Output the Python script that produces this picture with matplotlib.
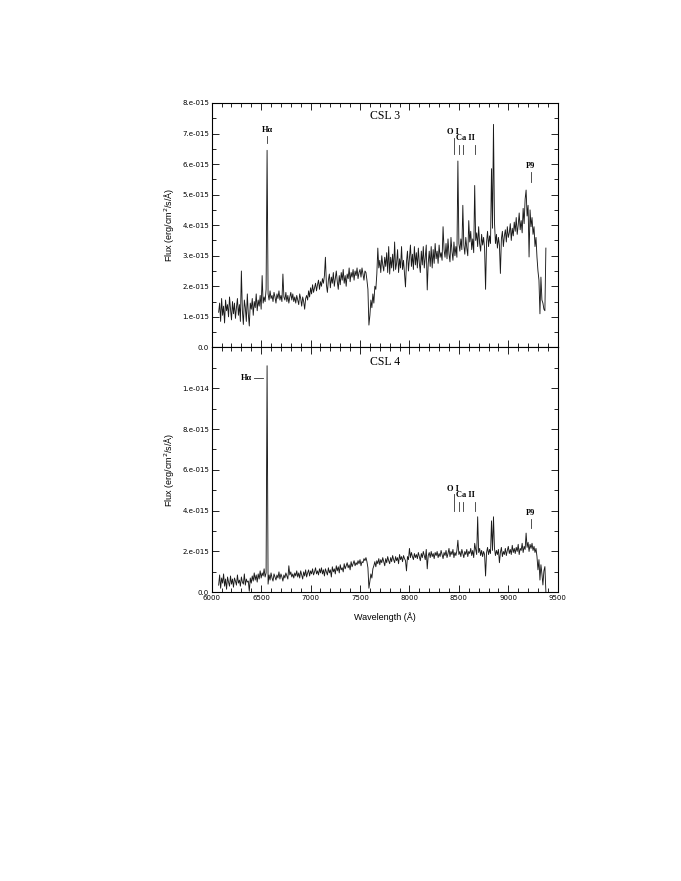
import numpy as np
import matplotlib
matplotlib.use('Agg')
import matplotlib.pyplot as plt
from matplotlib.ticker import MultipleLocator, FixedLocator, FuncFormatter

# ==========================================
# 資料 (flux 單位: 1e-15 erg/cm2/s/Å)
# ==========================================
WL_START, WL_STEP = 6070, 10

csl3_flux = [
    1.15, 1.45, 0.85, 1.60, 1.05, 1.35, 0.80, 1.55, 1.20, 1.40,
    1.00, 1.65, 1.25, 0.90, 1.50, 1.10, 1.45, 0.95, 1.30, 1.60,
    1.05, 1.40, 0.85, 2.50, 1.20, 0.75, 1.55, 1.30, 0.85, 1.75,
    1.10, 0.70, 1.45, 1.25, 1.60, 1.05, 1.50, 1.30, 1.75, 1.20,
    1.55, 1.35, 1.70, 1.25, 2.35, 1.45, 1.65, 1.50, 1.90, 6.45,
    1.75, 1.55, 1.85, 1.60, 1.70, 1.50, 1.80, 1.65, 1.45, 1.75,
    1.60, 1.85, 1.55, 1.70, 1.50, 2.40, 1.65, 1.55, 1.80, 1.50,
    1.70, 1.45, 1.65, 1.80, 1.55, 1.75, 1.50, 1.65, 1.45, 1.70,
    1.55, 1.40, 1.75, 1.60, 1.35, 1.65, 1.50, 1.25, 1.60, 1.70,
    1.55, 1.85, 1.65, 1.95, 1.75, 2.05, 1.80, 1.95, 2.10, 1.85,
    2.05, 2.20, 1.90, 2.15, 2.00, 2.25, 2.10, 2.35, 2.95, 2.05,
    1.80, 2.20, 2.40, 1.95, 2.30, 2.10, 2.45, 2.00, 2.25, 2.50,
    2.15, 1.90, 2.35, 2.05, 2.45, 2.20, 2.55, 2.10, 2.35, 2.00,
    2.40, 2.25, 2.60, 2.15, 2.45, 2.30, 2.55, 2.20, 2.50, 2.35,
    2.60, 2.25, 2.45, 2.55, 2.30, 2.60, 2.40, 2.20, 2.50, 2.45,
    2.20, 1.90, 0.73, 1.05, 1.55, 1.30, 1.75, 1.45, 2.00, 1.90,
    2.40, 3.25, 2.60, 2.85, 2.45, 3.00, 2.70, 2.50, 2.95, 2.65,
    3.10, 2.45, 3.30, 2.40, 2.95, 2.60, 3.05, 2.50, 3.45, 2.55,
    2.75, 3.20, 2.45, 2.90, 2.60, 3.30, 2.55, 2.85, 2.40, 1.98,
    2.80, 3.15, 2.50, 2.95, 3.35, 2.65, 3.05, 2.55, 3.30, 2.70,
    3.10, 2.60, 3.25, 2.75, 2.45, 3.15, 2.70, 3.30, 2.60, 2.95,
    3.35, 1.88, 2.75, 3.15, 2.65, 3.30, 2.60, 3.20, 2.75, 3.40,
    2.90, 3.15, 2.75, 3.35, 2.95, 3.10, 2.85, 3.95, 3.20, 2.95,
    3.40, 2.90, 3.55, 3.05, 2.80, 3.60, 3.15, 2.85, 3.45, 3.00,
    3.30, 2.95, 6.10, 3.40, 3.15, 3.55, 3.20, 4.65, 3.35, 3.05,
    3.60, 3.25, 3.00, 4.15, 3.45, 3.80, 3.20, 3.55, 3.10, 5.30,
    3.50, 3.75, 3.30, 3.95, 3.40, 3.15, 3.70, 3.35, 3.60, 3.25,
    1.90, 3.45, 3.80, 3.30, 3.65, 3.40, 5.85, 3.90, 7.30, 4.10,
    3.40, 3.70, 3.25, 3.60, 3.35, 2.42, 3.55, 3.80, 3.30, 3.65,
    3.85, 3.45, 3.95, 3.60, 3.75, 4.05, 3.50, 3.90, 3.65, 4.10,
    3.80, 4.25, 3.70, 4.00, 4.40, 3.85, 4.15, 3.75, 4.55, 4.05,
    4.85, 5.15, 4.30, 4.65, 2.96, 4.50, 3.95, 4.25, 3.70, 3.95,
    3.30, 3.60, 2.95, 2.50, 2.20, 1.10, 2.30, 1.55, 1.45, 1.25,
    1.20, 3.25,
]

csl4_flux = [
    0.35, 0.85, 0.20, 0.70, 0.45, 0.90, 0.30, 0.65, 0.15, 0.75,
    0.50, 0.30, 0.80, 0.40, 0.65, 0.25, 0.70, 0.55, 0.35, 0.85,
    0.45, 0.60, 0.30, 0.75, 0.50, 0.40, 0.90, 0.35, 0.65, 0.50,
    0.55, 0.05, 0.70, 0.45, 0.80, 0.55, 0.95, 0.60, 0.85, 0.50,
    0.90, 0.65, 1.05, 0.70, 0.95, 0.80, 1.15, 0.75, 0.95, 11.10,
    0.40, 0.85, 0.60, 0.95, 0.70, 0.55, 0.90, 0.75, 0.60, 0.85,
    0.70, 1.00, 0.65, 0.90, 0.75, 0.55, 0.85, 0.70, 0.95, 0.80,
    0.65, 1.30, 0.85, 1.00, 0.75, 0.90, 0.70, 0.95, 0.80, 1.05,
    0.75, 0.95, 0.70, 1.05, 0.85, 0.65, 1.00, 0.80, 1.10, 0.75,
    0.95, 1.10, 0.80, 1.05, 0.90, 1.15, 0.85, 1.00, 1.20, 0.90,
    1.05, 0.85, 1.15, 0.95, 1.20, 0.90, 1.10, 0.80, 1.15, 1.00,
    0.85, 1.20, 0.95, 1.10, 0.75, 1.25, 1.00, 1.15, 0.90, 1.30,
    1.05, 1.25, 0.95, 1.35, 1.10, 1.20, 1.00, 1.40, 1.15, 1.30,
    1.45, 1.20, 1.35, 1.10, 1.50, 1.25, 1.40, 1.55, 1.30, 1.45,
    1.35, 1.55, 1.40, 1.60, 1.30, 1.50, 1.45, 1.65, 1.55, 1.70,
    1.50, 1.20, 0.20, 0.55, 0.90, 0.70, 1.15, 1.30, 1.50, 1.25,
    1.55, 1.40, 1.65, 1.35, 1.60, 1.45, 1.70, 1.50, 1.30, 1.65,
    1.45, 1.75, 1.55, 1.40, 1.70, 1.50, 1.80, 1.60, 1.45, 1.75,
    1.55, 1.70, 1.40, 1.85, 1.60, 1.75, 1.50, 1.80, 1.65, 1.55,
    1.05, 1.75, 1.60, 2.15, 1.70, 1.95, 1.75, 1.60, 1.90, 1.70,
    1.85, 1.65, 1.95, 1.75, 1.55, 1.90, 1.70, 2.00, 1.80, 1.60,
    2.10, 1.15, 1.80, 1.95, 1.70, 2.00, 1.75, 1.90, 1.65, 1.95,
    1.80, 2.00, 1.70, 1.90, 1.75, 2.05, 1.85, 1.65, 1.95, 1.80,
    2.05, 1.70, 1.90, 2.15, 1.75, 2.00, 1.85, 2.10, 1.70, 1.95,
    1.80, 2.05, 2.55, 1.85, 2.00, 1.75, 2.10, 1.90, 1.70, 2.00,
    1.85, 2.10, 1.75, 2.00, 1.90, 2.15, 1.80, 2.05, 1.70, 2.40,
    2.10, 1.85, 3.70, 1.95, 2.15, 1.80, 2.05, 1.75, 2.00, 1.85,
    0.80, 1.95, 2.20, 1.85, 2.10, 1.90, 3.50, 2.05, 3.70, 2.15,
    1.80, 2.05, 1.85, 2.10, 1.45, 1.95, 2.20, 1.75, 2.00, 1.85,
    2.15, 1.80, 2.05, 2.25, 1.90, 2.10, 1.85, 2.30, 1.95, 2.15,
    1.90, 2.20, 2.00, 2.35, 1.85, 2.15, 2.05, 2.40, 1.95, 2.25,
    2.10, 2.90, 2.20, 2.45, 2.00, 2.35, 2.15, 2.40, 2.05, 2.25,
    1.95, 2.15, 1.75, 1.10, 1.60, 0.60, 1.35, 0.90, 0.36, 1.05,
    1.26, 0.03,
]

wl3 = WL_START + WL_STEP * np.arange(len(csl3_flux))
wl4 = WL_START + WL_STEP * np.arange(len(csl4_flux))

# 譜線標記位置 (Å)
HA_WL    = 6563
OI_WL    = 8446
CAII_WL  = [8498, 8542, 8662]
P9_WL    = 9229

SCALE = 1e-15

CSL3_YTICKS = [0, 1, 2, 3, 4, 5, 6, 7, 8]
CSL4_YTICKS = [0, 2, 4, 6, 8, 10]


def _sci(v, pos):
    if abs(v) < 1e-20: return '0.0'
    m, e = f'{v:.0e}'.split('e')
    return f'{m}.e{e[0]}0{e[1:]}'


def _style(ax, ymax, yticks, ymin):
    ax.set_xlim(6000, 9500)
    ax.set_ylim(0, ymax)
    ax.xaxis.set_major_locator(MultipleLocator(500))
    ax.xaxis.set_minor_locator(MultipleLocator(100))
    ax.yaxis.set_major_locator(FixedLocator(np.array(yticks) * SCALE))
    ax.yaxis.set_minor_locator(MultipleLocator(ymin))
    ax.yaxis.set_major_formatter(FuncFormatter(_sci))
    ax.tick_params(which='both', direction='in', top=True, right=True,
                   labelsize=5, width=0.6, pad=2)
    ax.tick_params(which='major', length=5)
    ax.tick_params(which='minor', length=3)
    for s in ax.spines.values():
        s.set_linewidth(0.8)


fig = plt.figure(figsize=(6.81, 8.81), dpi=100)
ax1 = fig.add_axes([0.3109, 0.6057, 0.5081, 0.2774])
ax2 = fig.add_axes([0.3109, 0.3277, 0.5081, 0.2780])

serif = ['Liberation Serif', 'DejaVu Serif']
sans  = ['Liberation Sans', 'DejaVu Sans']

# ── CSL 3 ──
ax1.plot(wl3, np.array(csl3_flux) * SCALE, color='#1a1a1a', lw=0.65)
_style(ax1, 8e-15, CSL3_YTICKS, 0.5e-15)
ax1.set_xticklabels([])
ax1.text(0.5, 0.945, 'CSL 3', transform=ax1.transAxes, ha='center', va='center',
         fontsize=8.5, family=serif)
ax1.text(HA_WL, 7.12 * SCALE, 'Hα', ha='center', va='center', fontsize=6,
         weight='bold', family=serif)
ax1.plot([HA_WL, HA_WL], [6.68 * SCALE, 6.92 * SCALE], color='#333333', lw=0.6)
ax1.text(8436, 7.04 * SCALE, 'O I', ha='center', va='center', fontsize=6,
         weight='bold', family=serif)
ax1.plot([OI_WL, OI_WL], [6.32 * SCALE, 6.87 * SCALE], color='#333333', lw=0.6)
ax1.text(8565, 6.84 * SCALE, 'Ca II', ha='center', va='center', fontsize=6,
         weight='bold', family=serif)
for w in CAII_WL:
    ax1.plot([w, w], [6.32 * SCALE, 6.62 * SCALE], color='#333333', lw=0.6)
ax1.text(9220, 5.93 * SCALE, 'P9', ha='center', va='center', fontsize=6,
         weight='bold', family=serif)
ax1.plot([P9_WL, P9_WL], [5.40 * SCALE, 5.73 * SCALE], color='#333333', lw=0.6)
ax1.set_ylabel('Flux (erg/cm$^2$/s/Å)', fontsize=6.5, family=sans)
ax1.yaxis.set_label_coords(-0.10, 0.5)

# ── CSL 4 ──
ax2.plot(wl4, np.array(csl4_flux) * SCALE, color='#1a1a1a', lw=0.65)
_style(ax2, 1.2e-14, CSL4_YTICKS, 1e-15)
ax2.text(0.5, 0.94, 'CSL 4', transform=ax2.transAxes, ha='center', va='center',
         fontsize=8.5, family=serif)
ax2.text(6408, 10.5 * SCALE, 'Hα', ha='right', va='center', fontsize=6,
         weight='bold', family=serif)
ax2.plot([6428, 6519], [10.5 * SCALE, 10.5 * SCALE], color='#333333', lw=0.6)
ax2.text(8436, 5.06 * SCALE, 'O I', ha='center', va='center', fontsize=6,
         weight='bold', family=serif)
ax2.plot([OI_WL, OI_WL], [3.99 * SCALE, 4.82 * SCALE], color='#333333', lw=0.6)
ax2.text(8565, 4.77 * SCALE, 'Ca II', ha='center', va='center', fontsize=6,
         weight='bold', family=serif)
for w in CAII_WL:
    ax2.plot([w, w], [3.99 * SCALE, 4.43 * SCALE], color='#333333', lw=0.6)
ax2.text(9220, 3.90 * SCALE, 'P9', ha='center', va='center', fontsize=6,
         weight='bold', family=serif)
ax2.plot([P9_WL, P9_WL], [3.15 * SCALE, 3.59 * SCALE], color='#333333', lw=0.6)
ax2.set_ylabel('Flux (erg/cm$^2$/s/Å)', fontsize=6.5, family=sans)
ax2.yaxis.set_label_coords(-0.10, 0.5)
ax2.set_xlabel('Wavelength (Å)', fontsize=6.5, family=sans)
ax2.xaxis.set_label_coords(0.5, -0.08)

fig.savefig('out.png', dpi=100)
